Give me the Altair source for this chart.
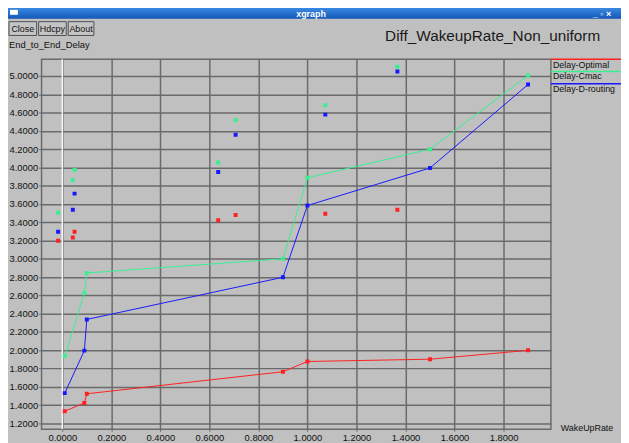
import altair as alt
import pandas as pd

# ---- data ----
series_names = ["Delay-Optimal", "Delay-Cmac", "Delay-D-routing"]
series_colors = ["#ff2020", "#38f090", "#1818ff"]

x_line = [0.01, 0.09, 0.10, 0.90, 1.00, 1.50, 1.90]
optimal = [1.333, 1.424, 1.524, 1.765, 1.877, 1.902, 1.999]
cmac = [1.938, 2.626, 2.845, 3.000, 3.886, 4.198, 5.007]
drouting = [1.531, 1.996, 2.337, 2.798, 3.583, 3.993, 4.906]

x_scatter = [-0.017, 0.043, 0.050, 0.636, 0.707, 1.073, 1.367]
optimal_s = [3.198, 3.233, 3.295, 3.421, 3.479, 3.493, 3.536]
cmac_s = [3.503, 3.860, 3.972, 4.054, 4.515, 4.680, 5.100]
drouting_s = [3.295, 3.536, 3.713, 3.950, 4.357, 4.577, 5.048]

x_ticks = [0.0, 0.2, 0.4, 0.6, 0.8, 1.0, 1.2, 1.4, 1.6, 1.8]
y_ticks = [1.2, 1.4, 1.6, 1.8, 2.0, 2.2, 2.4, 2.6, 2.8, 3.0, 3.2, 3.4,
           3.6, 3.8, 4.0, 4.2, 4.4, 4.6, 4.8, 5.0]

title_text = "Diff_WakeupRate_Non_uniform"
y_label = "End_to_End_Delay"
x_label = "WakeUpRate"
buttons = ["Close", "Hdcpy", "About"]

# ---- tables ----
rows = []
for name, ys in zip(series_names, [optimal, cmac, drouting]):
    for i, (xv, yv) in enumerate(zip(x_line, ys)):
        rows.append({"series": name, "x": xv, "y": yv, "order": i})
line_df = pd.DataFrame(rows)

srows = []
for name, ys in zip(series_names, [optimal_s, cmac_s, drouting_s]):
    for xv, yv in zip(x_scatter, ys):
        srows.append({"series": name, "x": xv, "y": yv})
scatter_df = pd.DataFrame(srows)

W, H = 516, 375
FONT = "Liberation Sans"
GRID = "#6a6a6a"
BG = "#c0c0c0"

xs = alt.Scale(domain=[-0.0846, 1.9933], nice=False, zero=False)
ys_ = alt.Scale(domain=[1.135, 5.1835], nice=False, zero=False)
cs = alt.Scale(domain=series_names, range=series_colors)

x_axis = alt.Axis(values=x_ticks, format=".4f", title=None, grid=True,
                  gridColor=GRID, gridWidth=1.5, domain=False, tickColor=GRID,
                  tickSize=2, labelPadding=1, labelFont=FONT, labelFontSize=9.5,
                  labelColor="#111111", labelOverlap=False, labelFlush=False)
y_axis = alt.Axis(values=y_ticks, format=".4f", title=None, grid=True,
                  gridColor=GRID, gridWidth=1.5, domain=False, tickColor=GRID,
                  tickSize=3, labelPadding=1, labelFont=FONT, labelFontSize=9.5,
                  labelColor="#111111", labelOverlap=False, labelFlush=False,
                  labelSeparation=0)

X = alt.X("x:Q", scale=xs, axis=x_axis)
Y = alt.Y("y:Q", scale=ys_, axis=y_axis)
C = alt.Color("series:N", scale=cs, legend=None)

base_l = alt.Chart(line_df)
lines = base_l.mark_line(strokeWidth=1, clip=True).encode(
    x=X, y=Y, color=C, order="order:Q", detail="series:N",
)
line_pts = base_l.mark_square(size=16, opacity=1, clip=True).encode(
    x=X, y=Y, color=C,
)
scatter_pts = alt.Chart(scatter_df).mark_square(size=16, opacity=1, clip=True).encode(
    x=X, y=Y, color=C,
)
zero_line = alt.Chart(pd.DataFrame({"x": [0.0]})).mark_rule(
    color="#f4f4f4", strokeWidth=1.5).encode(x=X)


def one(txt):
    return pd.DataFrame({"t": [txt]})


def text_layer(txt, x, y, size=9.5, align="left", color="#111111", weight="normal"):
    return alt.Chart(one(txt)).mark_text(
        align=align, baseline="middle", font=FONT, fontSize=size,
        color=color, fontWeight=weight).encode(
        x=alt.value(x), y=alt.value(y), text="t:N")


def rule_layer(x1, x2, y1, y2, color, width=1.0):
    return alt.Chart(one("r")).mark_rule(color=color, strokeWidth=width).encode(
        x=alt.value(x1), x2=alt.value(x2), y=alt.value(y1), y2=alt.value(y2))


def rect_layer(x1, x2, y1, y2, fill, stroke=None):
    kw = {"fill": fill}
    if stroke:
        kw["stroke"] = stroke
        kw["strokeWidth"] = 1
    return alt.Chart(one("r")).mark_rect(**kw).encode(
        x=alt.value(x1), x2=alt.value(x2), y=alt.value(y1), y2=alt.value(y2))


deco = []
# window title bar
deco.append(alt.Chart(one("bar")).mark_rect(
    color=alt.Gradient(gradient="linear", x1=0, x2=0, y1=0, y2=1,
                       stops=[alt.GradientStop(color="#3f8fe6", offset=0),
                              alt.GradientStop(color="#1257b8", offset=1)])
).encode(x=alt.value(-42), x2=alt.value(587), y=alt.value(-53), y2=alt.value(-41)))
deco.append(text_layer("xgraph", 273, -46, size=9, align="center", color="white", weight="bold"))
deco.append(rect_layer(-32, -24, -50, -45, "white"))
deco.append(text_layer("_ ▫ ×", 577, -46, size=9, align="right", color="white", weight="bold"))

# buttons
for label, (bx1, bx2) in zip(buttons, [(-33, -5), (-3, 25), (27, 53)]):
    deco.append(rect_layer(bx1, bx2, -38, -24, "#c4c4c4", stroke="#505050"))
    deco.append(text_layer(label, (bx1 + bx2) / 2, -31, size=9, align="center"))

deco.append(text_layer(title_text, 348, -23, size=15.5, color="#1a1a1a"))
deco.append(text_layer(y_label, -33, -14, size=9.5))
deco.append(text_layer(x_label, 526, 374, size=9))

# custom legend
legend_y_line = [0, 12.5, 25]
legend_y_text = [5.5, 17.5, 30]
for name, col, ly, ty in zip(series_names, series_colors, legend_y_line, legend_y_text):
    deco.append(rule_layer(516, 590, ly, ly, col, 1.5))
    deco.append(text_layer(name, 518, ty, size=9))

chart = alt.layer(zero_line, lines, line_pts, scatter_pts, *deco).properties(
    width=W, height=H,
    background=BG,
    autosize=alt.AutoSizeParams(type="none"),
    padding={"left": 34, "top": 49, "right": 71, "bottom": 11},
).configure_view(
    fill=BG, stroke=GRID, strokeWidth=1.5
).configure_axis(
    labelOverlap=False
)

chart.save("out.html", embed_options={"renderer": "svg", "actions": False})
